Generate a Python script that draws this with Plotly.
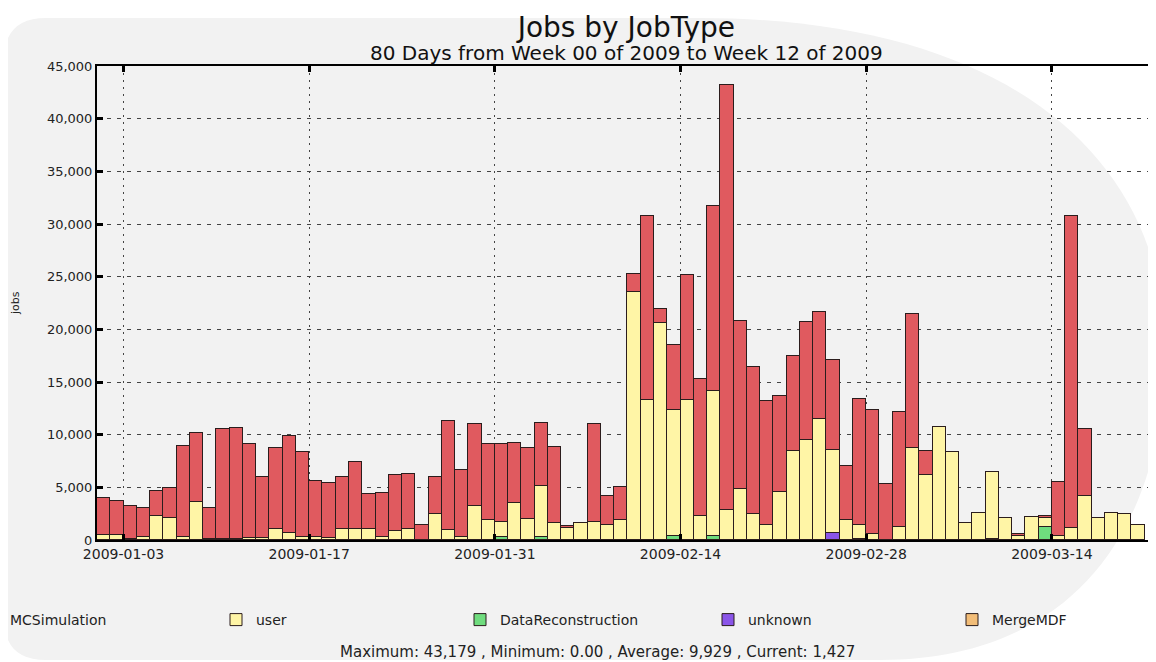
import plotly.graph_objects as go
import pandas as pd

# ---------------- data ----------------
start_day = "2009-01-01"
n_days = 79
days = pd.date_range(start_day, periods=n_days, freq="D")

totals = [4000, 3700, 3200, 3050, 4620, 4970, 8950, 10120, 3070, 10530,
          10630, 9110, 6010, 8700, 9870, 8350, 5630, 5380, 6010, 7430,
          4340, 4460, 6140, 6260, 1390, 6010, 11290, 6640, 11010, 9080,
          9080, 9200, 8700, 11130, 8830, 1300, 1640, 11010, 4210, 5000,
          25240, 30780, 21950, 18480, 25120, 15250, 31700, 43179, 20750, 16420,
          13190, 13700, 17460, 20660, 21670, 17050, 7020, 13350, 12340, 5280,
          12180, 21420, 8450, 10750, 8350, 1640, 2530, 6420, 2060, 540,
          2150, 2280, 5530, 30750, 10500, 2060, 2530, 2440, 1427]

user = [500, 500, 100, 300, 2250, 2120, 320, 3640, 100, 100,
        100, 220, 200, 1040, 700, 320, 320, 220, 1040, 1040,
        1040, 320, 820, 1070, 0, 2500, 950, 250, 3260, 1870,
        1490, 3480, 1990, 4840, 1580, 1100, 1640, 1740, 1460, 1900,
        23570, 13290, 20620, 12020, 13290, 2280, 13830, 2850, 4810, 2440,
        1390, 4560, 8420, 9490, 11510, 7910, 1900, 1360, 540, 0,
        1260, 8700, 6140, 10750, 8350, 1640, 2530, 6320, 2060, 390,
        2150, 860, 380, 1110, 4170, 2060, 2530, 2440, 1427]

data_reconstruction = [0] * n_days
for i, v in {30: 250, 33: 300, 43: 350, 46: 350, 67: 100, 71: 1200}.items():
    data_reconstruction[i] = v

unknown = [0] * n_days
unknown[55] = 650

merge_mdf = [0] * n_days
merge_mdf[57] = 80

mc_simulation = [max(t - u - d - k - m, 0) for t, u, d, k, m in
                 zip(totals, user, data_reconstruction, unknown, merge_mdf)]

tick_labels = ["2009-01-03", "2009-01-17", "2009-01-31", "2009-02-14",
               "2009-02-28", "2009-03-14"]

title_text = "Jobs by JobType"
subtitle_text = "80 Days from Week 00 of 2009 to Week 12 of 2009"
stats_text = "Maximum: 43,179 , Minimum: 0.00 , Average: 9,929 , Current: 1,427"

# (name, values, colour, legend id, legend text-start pixel on screen)
series = [
    ("DataReconstruction", data_reconstruction, "#6fdc7e", "legend3", 500),
    ("unknown", unknown, "#8a55e8", "legend4", 748),
    ("MergeMDF", merge_mdf, "#f2bd78", "legend5", 992),
    ("user", user, "#fff5a6", "legend2", 256),
    ("MCSimulation", mc_simulation, "#e05a5f", "legend", 10),
]

# ---------------- geometry helpers ----------------
OFF = 8                      # page body margin of the html page
W, H = 1156 - OFF, 662 - OFF
PL, PR, PT, PB = 97 - OFF, 1156 - OFF, 66 - OFF, 540 - OFF


def px(x):
    """screen pixel x -> paper coordinate"""
    return (x - OFF - PL) / (PR - PL)


def py(y):
    """screen pixel y -> paper coordinate"""
    return (PB - (y - OFF)) / (PB - PT)


DAY_MS = 86400000

fig = go.Figure()
legend_layouts = {}
for name, vals, color, leg, text_x in series:
    fig.add_trace(go.Bar(
        x=days, y=vals, name=name, legend=leg,
        width=DAY_MS, offset=0,
        marker=dict(color=color, line=dict(color="#2b1d1d", width=1)),
    ))
    legend_layouts[leg] = dict(
        orientation="h", x=px(text_x - 40), y=py(604), xanchor="left", yanchor="top",
        bgcolor="rgba(0,0,0,0)", font=dict(size=14, color="#222"),
        itemwidth=30, borderwidth=0,
    )

# background D-shaped panel (watermark-like)
pts = [("M", 4, 60), ("Q", 4, 18, 46, 18), ("L", 700, 18),
       ("C", 1010, 18, 1165, 160, 1165, 350), ("C", 1165, 520, 1080, 660, 880, 660),
       ("L", 46, 660), ("Q", 4, 660, 4, 618), ("Z",)]
path = ""
for p in pts:
    cmd = p[0]
    coords = p[1:]
    s = cmd
    for j in range(0, len(coords), 2):
        s += f" {px(coords[j]):.5f},{py(coords[j + 1]):.5f}"
    path += s + " "

shapes = [dict(type="path", path=path, xref="paper", yref="paper",
               fillcolor="#f2f2f2", line=dict(width=0), layer="below")]

fig.update_layout(
    width=W, height=H,
    margin=dict(l=PL, r=W - PR, t=PT, b=H - PB, pad=0, autoexpand=False),
    paper_bgcolor="white",
    plot_bgcolor="white",
    barmode="stack",
    bargap=0,
    font=dict(family="DejaVu Sans", size=13, color="#222"),
    shapes=shapes,
    showlegend=True,
    annotations=[
        dict(text=(f"<span style='font-size:28px'>{title_text}</span><br>"
                   f"<span style='font-size:20px'>{subtitle_text}</span>"),
             x=px(626), y=py(9), xref="paper", yref="paper",
             xanchor="center", yanchor="top", align="center",
             showarrow=False, font=dict(size=18, color="#111")),
        dict(text="jobs", x=px(15), y=py(303), xref="paper", yref="paper", textangle=-90,
             xanchor="center", yanchor="middle",
             showarrow=False, font=dict(size=11, color="#222")),
        dict(text=stats_text,
             x=px(597), y=py(652), xref="paper", yref="paper", showarrow=False,
             xanchor="center", yanchor="middle",
             font=dict(size=15, color="#222")),
    ],
    **legend_layouts,
)

x_end = pd.Timestamp(start_day) + pd.Timedelta(days=79.85)
fig.update_xaxes(
    type="date", range=[pd.Timestamp(start_day), x_end],
    tickvals=pd.to_datetime(tick_labels), ticktext=tick_labels,
    showgrid=True, gridcolor="#444", griddash="2px,5px", gridwidth=1,
    showline=True, linecolor="black", linewidth=2, mirror="allticks",
    ticks="inside", ticklen=6, tickwidth=3, tickcolor="black",
    tickfont=dict(size=14, color="#222"), zeroline=False,
)
fig.update_yaxes(
    range=[0, 45000], dtick=5000, tickformat=",",
    showgrid=True, gridcolor="#444", griddash="4px,6px", gridwidth=1,
    showline=True, linecolor="black", linewidth=2, mirror="allticks",
    ticks="inside", ticklen=6, tickwidth=3, tickcolor="black",
    tickfont=dict(size=13, color="#222"), zeroline=False,
)

fig.write_html("out.html")
